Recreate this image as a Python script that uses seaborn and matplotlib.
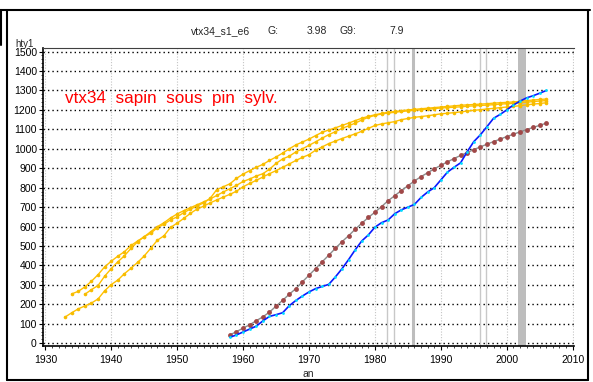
import numpy as np
import pandas as pd
import seaborn as sns
import matplotlib.pyplot as plt
from matplotlib.ticker import MultipleLocator

# yellow reference curves (one value per year)
start_a = 1933
curve_a = [135, 157, 177, 192, 207, 228, 270, 302, 325, 358,
           386, 416, 449, 489, 530, 553, 596, 618, 642, 668,
           690, 705, 722, 737, 752, 766, 782, 805, 822, 838,
           855, 872, 888, 905, 922, 940, 956, 970, 993, 1010,
           1027, 1040, 1053, 1065, 1077, 1090, 1105, 1120, 1128, 1134,
           1140, 1150, 1156, 1162, 1166, 1170, 1175, 1180, 1183, 1186,
           1190, 1194, 1198, 1201, 1205, 1208, 1212, 1215, 1218, 1222,
           1226, 1230, 1233, 1237]
start_b = 1934
curve_b = [254, 267, 290, 319, 353, 393, 422, 448, 471, 503,
           526, 548, 574, 600, 620, 645, 665, 682, 697, 712,
           727, 742, 760, 778, 795, 812, 832, 845, 860, 872,
           895, 925, 948, 962, 984, 1000, 1018, 1036, 1055, 1073,
           1088, 1105, 1118, 1132, 1148, 1162, 1172, 1179, 1184, 1188,
           1192, 1195, 1198, 1201, 1204, 1207, 1210, 1212, 1214, 1216,
           1219, 1221, 1223, 1225, 1227, 1230, 1232, 1234, 1237, 1240,
           1243, 1246, 1248]
start_c = 1936
curve_c = [252, 276, 297, 345, 384, 419, 450, 488, 522, 548,
           566, 595, 612, 635, 650, 672, 690, 705, 722, 745,
           790, 805, 820, 848, 870, 888, 905, 920, 940, 958,
           978, 1000, 1020, 1035, 1050, 1068, 1085, 1097, 1108, 1120,
           1132, 1145, 1157, 1167, 1175, 1182, 1188, 1192, 1196, 1200,
           1203, 1206, 1209, 1212, 1215, 1218, 1221, 1224, 1226, 1228,
           1230, 1232, 1235, 1237, 1239, 1241, 1244, 1248, 1251, 1254,
           1256]

# sample tree (blue) and model (brown)
start_s = 1958
sample = [31, 43, 58, 73, 88, 115, 138, 147, 157, 193,
          220, 243, 264, 281, 292, 303, 341, 383, 430, 480,
          526, 557, 597, 620, 634, 666, 686, 700, 714, 750,
          778, 800, 840, 880, 905, 928, 985, 1037, 1072, 1114,
          1157, 1177, 1200, 1225, 1245, 1262, 1273, 1286, 1300]
model = [43, 60, 78, 95, 116, 136, 160, 191, 221, 252,
         281, 316, 350, 384, 419, 453, 488, 522, 553, 586,
         617, 647, 674, 703, 733, 759, 785, 810, 835, 857,
         877, 897, 915, 933, 950, 966, 981, 996, 1010, 1024,
         1037, 1050, 1063, 1075, 1087, 1099, 1110, 1121, 1132]

thin_years = [1982, 1983, 1996, 1997]
thick_years = [1986]
band_years = (2002, 2003)

title_parts = ["vtx34_s1_e6", "G:", "3.98", "G9:", "7.9"]
title_x = [191, 267, 307, 339, 389]

sns.set_style("white")
plt.rcParams['font.family'] = ['Liberation Sans', 'DejaVu Sans']

W, H = 593, 382
fig = plt.figure(figsize=(W / 100, H / 100), dpi=100)
ax = fig.add_axes([42.7 / W, 1 - 346 / H, (574.3 - 42.7) / W, (346 - 48.3) / H])

# event lines
for yr in thin_years:
    ax.axvline(yr - 0.1, color='#c8c8c8', lw=1.0, zorder=1)
for yr in thick_years:
    ax.axvline(yr - 0.15, color='#bdbdbd', lw=2.2, zorder=1)
ax.axvspan(band_years[0] - 0.3, band_years[1] - 0.05, color='#bdbdbd', lw=0, zorder=1)

yellow = '#ffc000'
for start, vals in [(start_a, curve_a), (start_b, curve_b), (start_c, curve_c)]:
    df = pd.DataFrame({'an': np.arange(start, start + len(vals)), 'hty1': vals})
    sns.lineplot(data=df, x='an', y='hty1', ax=ax, color=yellow, lw=1.0,
                 marker='o', markersize=2.6, markeredgewidth=0,
                 markerfacecolor='#f7bc00', zorder=3)

dfs = pd.DataFrame({'an': np.arange(start_s, start_s + len(sample)),
                    'sample': sample, 'model': model})
sns.lineplot(data=dfs, x='an', y='model', ax=ax, color='#8c8c8c', lw=1.0,
             marker='o', markersize=3.5, markeredgewidth=0,
             markerfacecolor='#a04848', zorder=4)
sns.lineplot(data=dfs, x='an', y='sample', ax=ax, color='#0a1aff', lw=1.2,
             marker='o', markersize=2.0, markeredgewidth=0,
             markerfacecolor='#00e0ff', zorder=5)

ax.set_xlim(1929.6, 2010.25)
ax.set_ylim(-14, 1517)
ax.xaxis.set_major_locator(MultipleLocator(10))
ax.xaxis.set_minor_locator(MultipleLocator(1))
ax.yaxis.set_major_locator(MultipleLocator(100))
ax.yaxis.set_minor_locator(MultipleLocator(20))

ax.yaxis.grid(True, which='major', color='black', linestyle=(0, (1, 2.2)), lw=1.0)
ax.xaxis.grid(True, which='major', color='#c4c4c4', linestyle=(0, (1, 1.5)), lw=0.8)
ax.set_axisbelow(True)

ax.tick_params(axis='both', which='major', direction='out', length=3, width=0.8,
               labelsize=7.5, colors='black', left=True, bottom=True)
ax.tick_params(axis='both', which='minor', direction='out', length=1.5, width=0.6,
               left=True, bottom=True)
ax.tick_params(axis='y', pad=1.2)
ax.tick_params(axis='x', pad=3.5)

for side in ['left', 'bottom']:
    ax.spines[side].set_color('black')
    ax.spines[side].set_linewidth(1.2)
ax.spines['top'].set_color('#404040')
ax.spines['top'].set_linewidth(0.8)
ax.spines['right'].set_visible(False)
ax.set_xlabel('')
ax.set_ylabel('')

ax.text((65 - 42.7) / (574.3 - 42.7), (346 - 99) / (346 - 48.3),
        'vtx34  sapin  sous  pin  sylv.', transform=ax.transAxes,
        color='red', fontsize=12.3, va='center', ha='left')

for txt, xp in zip(title_parts, title_x):
    fig.text(xp / W, 1 - 31 / H, txt, fontsize=7.5, va='center', ha='left')
fig.text(15 / W, 1 - 44 / H, 'hty1', fontsize=7, va='center', ha='left')
fig.text(308.5 / W, 1 - 374 / H, 'an', fontsize=7.5, va='center', ha='center')

# outer frame
lw_frame = 1.5
frame = [([0, 590 / W], [1 - 10 / H, 1 - 10 / H]),
         ([7 / W, 7 / W], [1 - 10 / H, 1 - 380 / H]),
         ([7 / W, 588 / W], [1 - 380 / H, 1 - 380 / H]),
         ([588 / W, 588 / W], [1 - 10 / H, 1 - 380 / H]),
         ([0.8 / W, 0.8 / W], [1 - 10 / H, 1 - 45 / H])]
for xs, ys in frame:
    fig.add_artist(plt.Line2D(xs, ys, color='black', lw=lw_frame,
                              transform=fig.transFigure))

fig.savefig('out.png', dpi=100)
